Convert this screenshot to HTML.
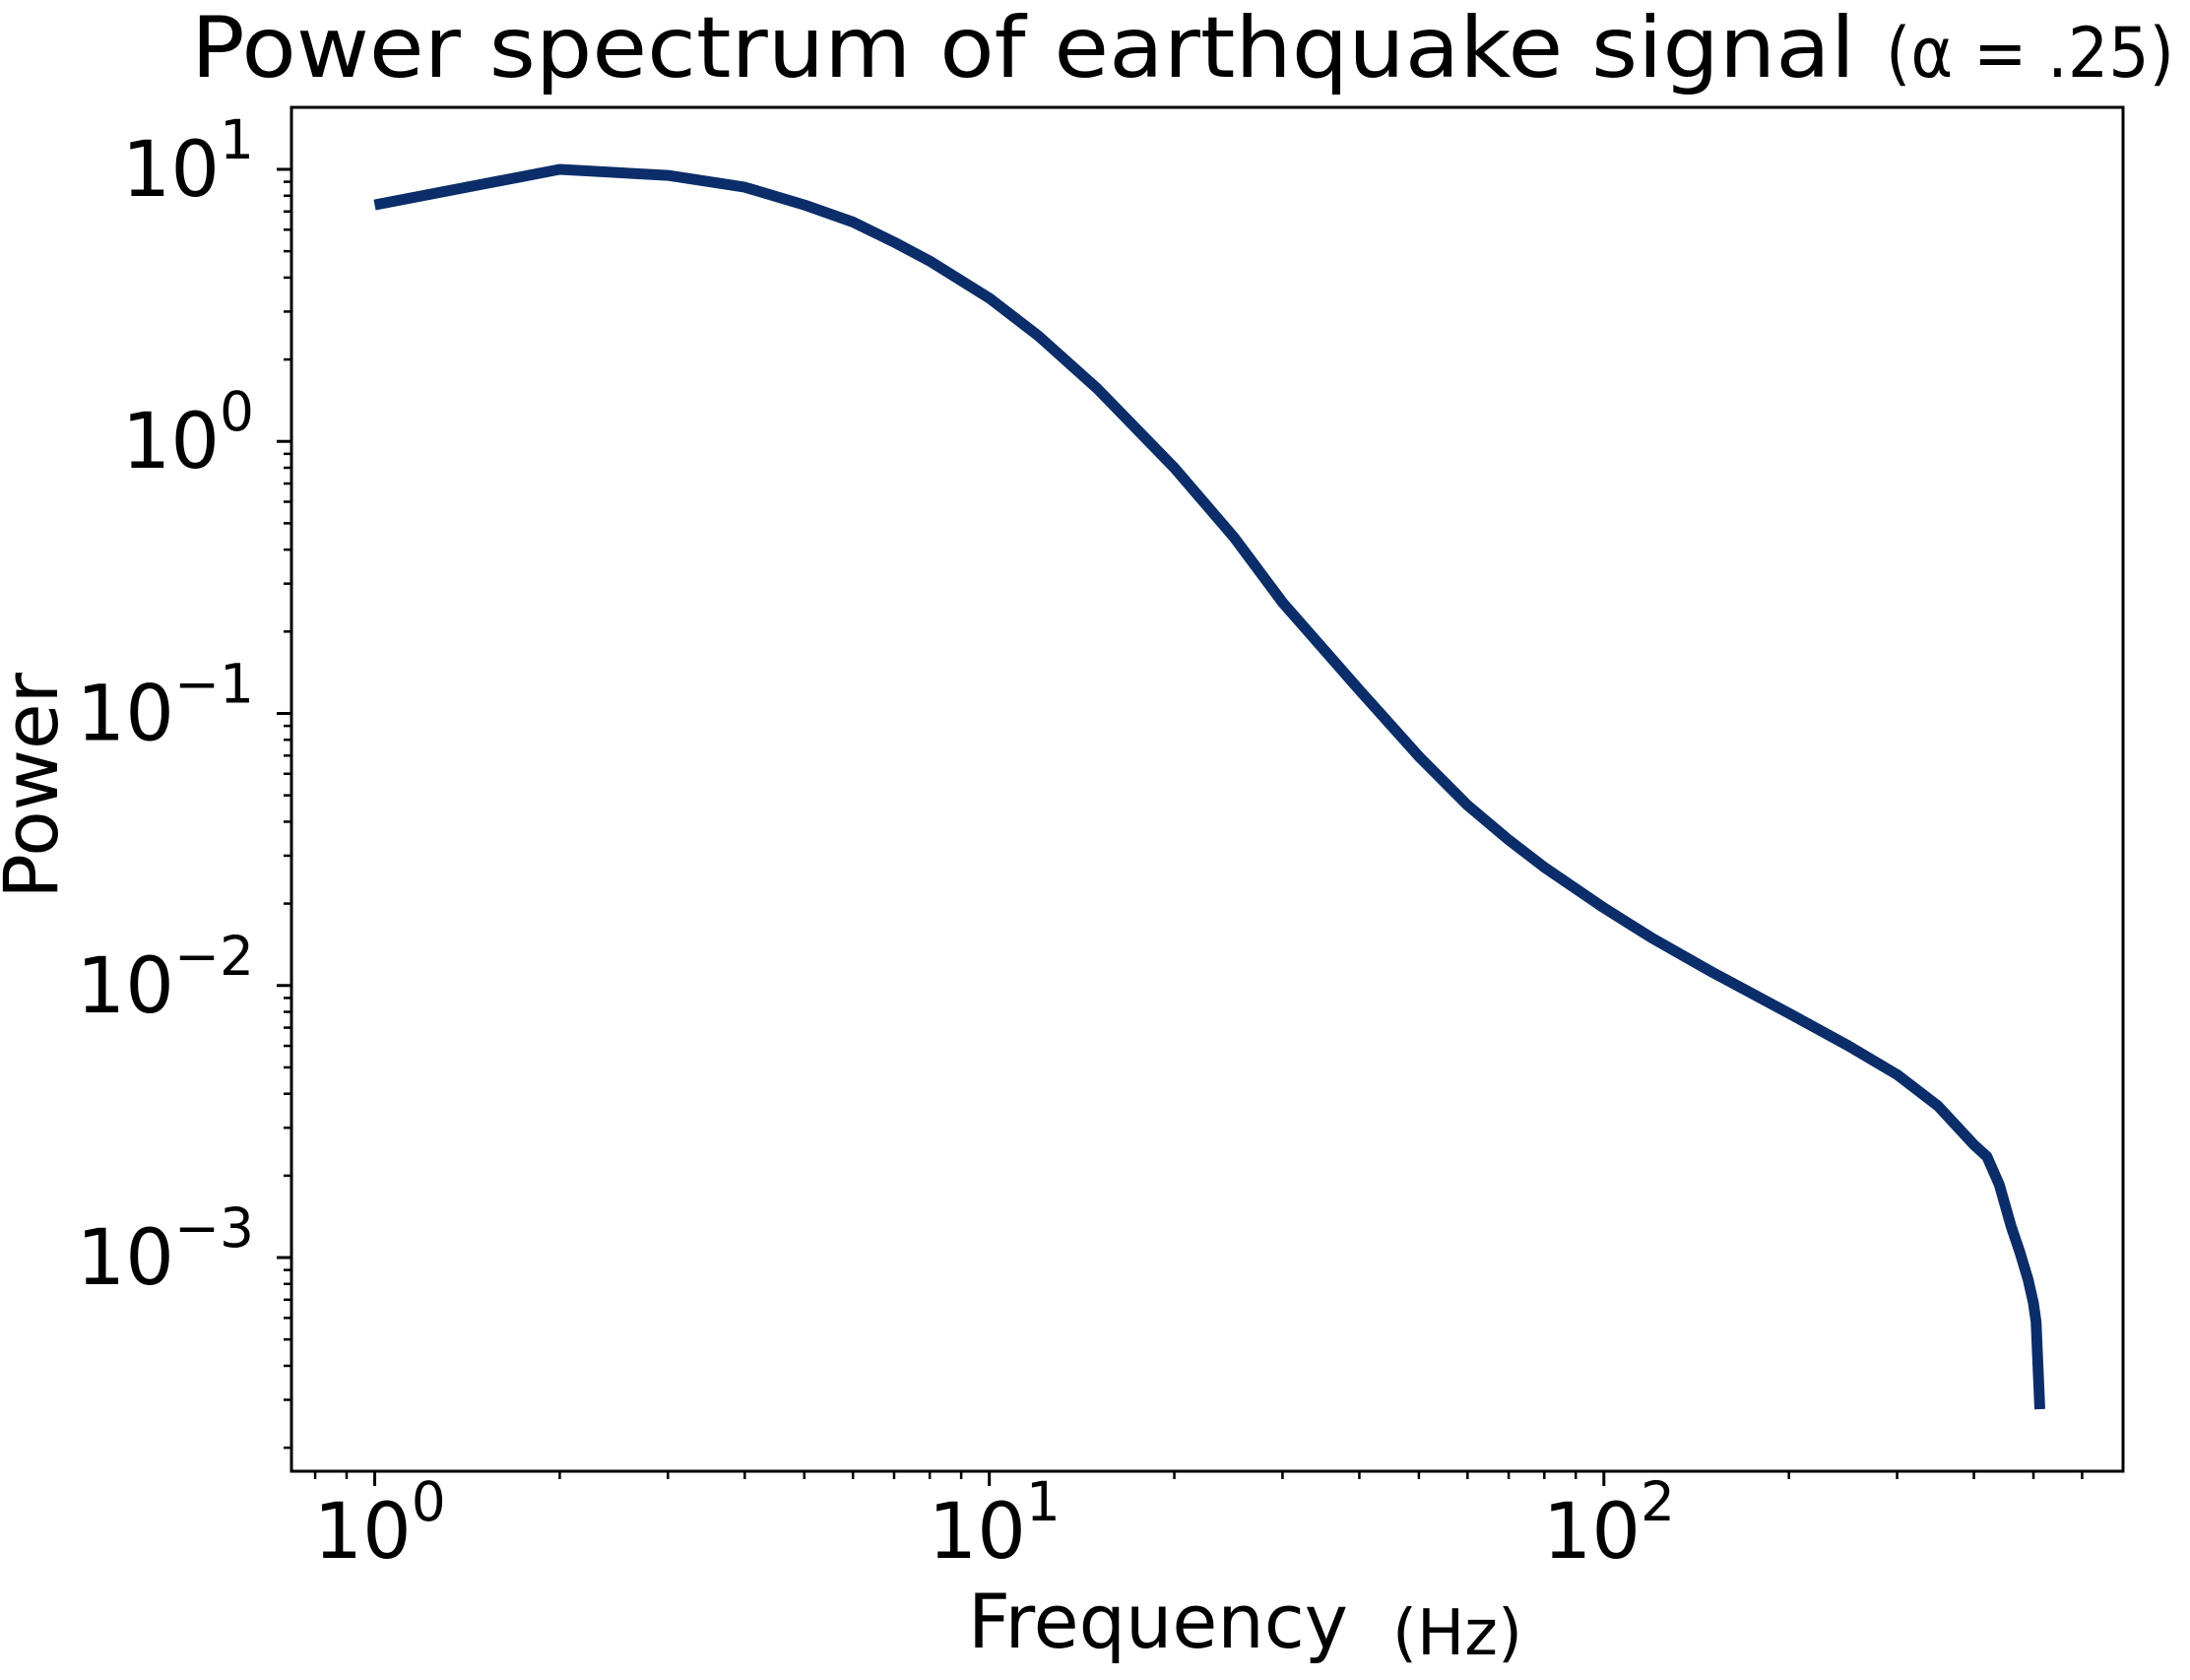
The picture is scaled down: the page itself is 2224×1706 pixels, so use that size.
<!DOCTYPE html>
<html><head><meta charset="utf-8"><style>
html,body{margin:0;padding:0;background:#fff;}
svg{display:block;font-family:"DejaVu Sans","Liberation Sans",sans-serif;}
</style></head><body>
<svg id="chart" width="2224" height="1706" viewBox="0 0 2224 1706" xmlns="http://www.w3.org/2000/svg">
<rect width="2224" height="1706" fill="#fff"/>
<text x="194" y="78" font-size="86" textLength="1690" lengthAdjust="spacingAndGlyphs">Power spectrum of earthquake signal</text>
<text x="1915" y="78" font-size="70" textLength="293" lengthAdjust="spacingAndGlyphs">(α = .25)</text>
<g id="axes"></g>
<text x="983" y="1673" font-size="76" textLength="386" lengthAdjust="spacingAndGlyphs">Frequency</text>
<text x="1414" y="1680" font-size="64" textLength="132" lengthAdjust="spacingAndGlyphs">(Hz)</text>
<text transform="translate(58,798) rotate(-90)" text-anchor="middle" font-size="76">Power</text>
</svg>
<script>
const freqs = [1,2,3,4,5,6,7,8,10,12,15,20,25,30,40,50,60,70,80,100,120,150,200,250,300,350,400,420,440,460,475,490,500,505,512];
const power = [7.4,10,9.5,8.6,7.4,6.4,5.4,4.6,3.36,2.45,1.56,0.80,0.445,0.256,0.122,0.0695,0.046,0.0343,0.0272,0.0193,0.0149,0.0112,0.0079,0.0060,0.0047,0.0036,0.0026,0.00235,0.00185,0.0013,0.00105,0.00083,0.00068,0.00058,0.000277];
const xTickExps = [0,1,2];
const yTickExps = [1,0,-1,-2,-3];

const NS='http://www.w3.org/2000/svg';
const L=296,R=2156,T=109,B=1494;
const lx=freqs.map(Math.log10), ly=power.map(Math.log10);
const xmin=Math.min(...lx),xmax=Math.max(...lx),ymin=Math.min(...ly),ymax=Math.max(...ly);
const xs=xmax-xmin, ys=ymax-ymin;
const x0=xmin-0.05*xs,x1=xmax+0.05*xs,y0=ymin-0.05*ys,y1=ymax+0.05*ys;
function X(v){return L+(Math.log10(v)-x0)/(x1-x0)*(R-L);}
function Y(v){return B-(Math.log10(v)-y0)/(y1-y0)*(B-T);}
const g=document.getElementById('axes');
function mk(tag,attrs){const e=document.createElementNS(NS,tag);for(const k in attrs)e.setAttribute(k,attrs[k]);return e;}

const pts=freqs.map((f,i)=>X(f).toFixed(1)+','+Y(power[i]).toFixed(1)).join(' ');
const line=mk('polyline',{points:pts,fill:'none',stroke:'#0b2d69','stroke-width':11,'stroke-linejoin':'round'});


g.appendChild(line);

for(let e=-5;e<=3;e++){for(let m=2;m<=9;m++){
  const v=m*Math.pow(10,e);
  const xv=X(v); if(xv>L&&xv<R){const t=mk('line',{x1:xv,x2:xv,y1:B,y2:B+8,stroke:'#000','stroke-width':2.5});
    
    
    g.appendChild(t);}
  const yv=Y(v); if(yv>T&&yv<B){const t=mk('line',{x1:L-8,x2:L,y1:yv,y2:yv,stroke:'#000','stroke-width':2.5});
    
    
    g.appendChild(t);}
}}
xTickExps.forEach(e=>{
  const xv=X(Math.pow(10,e));
  const t=mk('line',{x1:xv,x2:xv,y1:B,y2:B+15,stroke:'#000','stroke-width':3});
  
  
  g.appendChild(t);
  const tx=mk('text',{x:xv-62,y:B+88,'font-size':78});
  
  
  tx.innerHTML='10<tspan dy="-38" font-size="55">'+(e<0?'\u2212'+(-e):e)+'</tspan>';
  g.appendChild(tx);
});
yTickExps.forEach(e=>{
  const yv=Y(Math.pow(10,e));
  const t=mk('line',{x1:L-15,x2:L,y1:yv,y2:yv,stroke:'#000','stroke-width':3});
  
  
  g.appendChild(t);
  const tx=mk('text',{x:258,y:yv+27,'font-size':78,'text-anchor':'end'});
  
  
  tx.innerHTML='10<tspan dy="-38" font-size="55">'+(e<0?'\u2212'+(-e):e)+'</tspan>';
  g.appendChild(tx);
});
const fr=mk('rect',{x:L,y:T,width:R-L,height:B-T,fill:'none',stroke:'#000','stroke-width':3});


g.appendChild(fr);
</script>
</body></html>
